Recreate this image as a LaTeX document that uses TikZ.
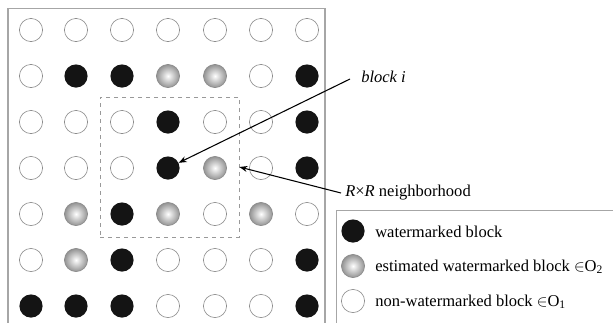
\documentclass[tikz,border=0pt]{standalone}
\usepackage{fontspec}
\setmainfont{Liberation Serif}
\usetikzlibrary{arrows.meta}
\definecolor{rim}{HTML}{8C8C8C}
\definecolor{framegray}{HTML}{A6A6A6}
\definecolor{ink}{HTML}{141414}
\tikzset{
  blk/.style={circle,inner sep=0pt,minimum size=17.4pt},
  wb/.style={blk,draw=rim,line width=0.45pt,fill=white},
  bb/.style={blk,fill=ink},
  gb/.style={blk,draw=gray!90,line width=0.45pt,shading=radial,inner color=white,outer color=gray!85},
  lbl/.style={anchor=west,inner sep=0pt,font=\fontsize{12.4}{14}\selectfont},
  pointer/.style={-{Stealth[length=6pt,width=4.5pt]},line width=0.8pt,black},
}
\begin{document}
\begin{tikzpicture}[x=0.75pt,y=-0.75pt]
\useasboundingbox (0,0) rectangle (613,322);
% outer frame (open at the bottom)
\draw[framegray,line width=0.9pt] (8,330) -- (8,8.5) -- (325,8.5) -- (325,330);
% grid of blocks: w = non-watermarked, b = watermarked, g = estimated
\def\xs{{31,76,122,168,215,261,307}}
\foreach \row [count=\r] in {
  {w,w,w,w,w,w,w},
  {w,b,b,g,g,w,b},
  {w,w,w,b,w,w,b},
  {w,w,w,b,g,w,b},
  {w,g,b,g,w,g,w},
  {w,g,b,w,w,w,b},
  {b,b,b,w,w,w,b}}{
  \foreach \kind [count=\c] in \row {
    \pgfmathsetmacro{\px}{\xs[\c-1]}
    \node[\kind b] (c-\r-\c) at (\px,{30+46*(\r-1)}) {};
  }
}
% R x R neighbourhood
\node[draw=gray!80,dashed,line width=0.6pt,minimum width=104.25pt,minimum height=105pt,inner sep=0pt] (nbhd) at (169.5,167) {};
\coordinate (nb-tip) at (nbhd.east |- 0,167);
% labels and pointers
\node[lbl] (lab-i) at (361,77) {\textit{block i}};
\coordinate (lab-i-end) at (350,79);
\draw[pointer] (lab-i-end) -- (c-4-4);
\node[lbl] (lab-r) at (345,193) {\textit{R}×\textit{R} neighborhood};
\coordinate (lab-r-end) at (341,193);
\draw[pointer] (lab-r-end) -- (nb-tip);
% legend box (open to the right and below)
\draw[framegray,line width=0.9pt] (336.5,330) -- (336.5,210.5) -- (620,210.5);
\node[bb] (key-b) at (353,231) {};
\node[gb] (key-g) at (353,266) {};
\node[wb] (key-w) at (353,301) {};
\node[lbl] (txt-b) at (375,232) {watermarked block};
\node[lbl] (txt-g) at (375,267) {estimated watermarked block $\in$O\textsubscript{2}};
\node[lbl] (txt-w) at (375,302) {non-watermarked block $\in$O\textsubscript{1}};
\end{tikzpicture}
\end{document}
